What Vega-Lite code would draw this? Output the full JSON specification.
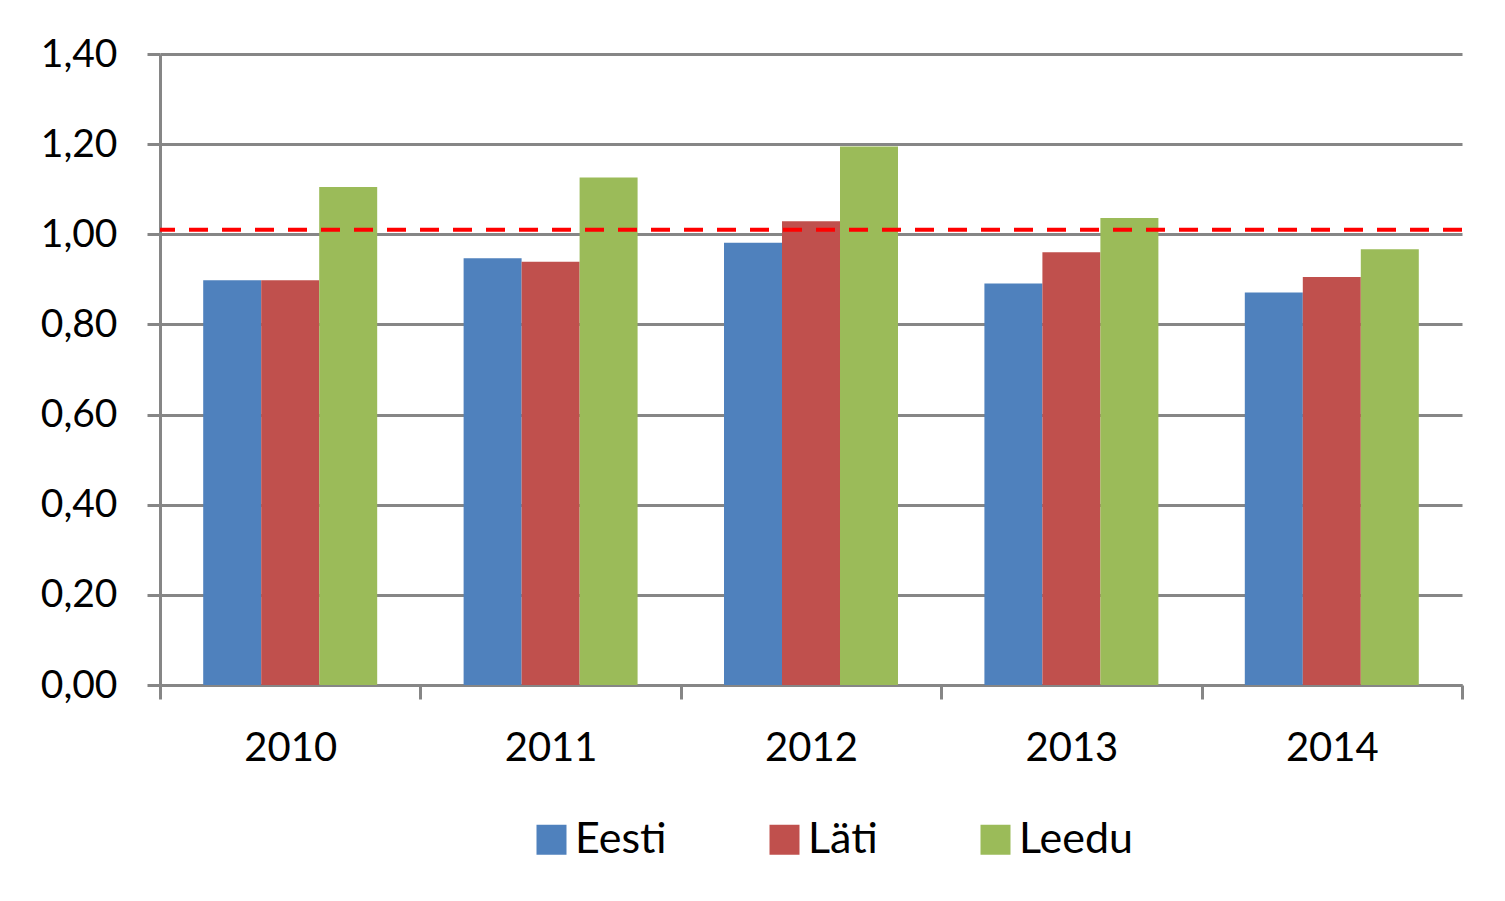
{
  "$schema": "https://vega.github.io/schema/vega-lite/v6.json",
  "width": 1302,
  "height": 631,
  "autosize": {"type": "none"},
  "padding": {"left": 160, "top": 54, "right": 43, "bottom": 216},
  "background": "white",
  "config": {"view": {"stroke": null}, "font": "Lato"},
  "datasets": {
    "bars": [
      {"year": "2010", "country": "Eesti", "value": 0.898},
      {"year": "2010", "country": "Läti", "value": 0.898},
      {"year": "2010", "country": "Leedu", "value": 1.105},
      {"year": "2011", "country": "Eesti", "value": 0.947},
      {"year": "2011", "country": "Läti", "value": 0.939},
      {"year": "2011", "country": "Leedu", "value": 1.126},
      {"year": "2012", "country": "Eesti", "value": 0.981},
      {"year": "2012", "country": "Läti", "value": 1.029},
      {"year": "2012", "country": "Leedu", "value": 1.195},
      {"year": "2013", "country": "Eesti", "value": 0.891},
      {"year": "2013", "country": "Läti", "value": 0.960},
      {"year": "2013", "country": "Leedu", "value": 1.036},
      {"year": "2014", "country": "Eesti", "value": 0.871},
      {"year": "2014", "country": "Läti", "value": 0.905},
      {"year": "2014", "country": "Leedu", "value": 0.967}
    ],
    "ref": [{"ref": 1.01}]
  },
  "layer": [
    {
      "data": {"name": "bars"},
      "mark": {"type": "bar"},
      "encoding": {
        "x": {
          "field": "year",
          "type": "ordinal",
          "scale": {"paddingInner": 0, "paddingOuter": 0},
          "axis": {
            "title": null,
            "labelAngle": 0,
            "labelFontSize": 40,
            "labelColor": "#000000",
            "labelPadding": 29,
            "tickBand": "extent",
            "tickSize": 14,
            "tickWidth": 3,
            "tickColor": "#868686",
            "domainColor": "#868686",
            "domainWidth": 3,
            "grid": false
          }
        },
        "xOffset": {
          "field": "country",
          "sort": ["Eesti", "Läti", "Leedu"],
          "scale": {"paddingInner": 0, "paddingOuter": 0.745}
        },
        "y": {
          "field": "value",
          "type": "quantitative",
          "scale": {"domain": [0, 1.4], "nice": false},
          "axis": {
            "title": null,
            "values": [0, 0.2, 0.4, 0.6, 0.8, 1.0, 1.2, 1.4],
            "labelExpr": "replace(format(datum.value, '.2f'), '.', ',')",
            "labelFontSize": 39,
            "labelColor": "#000000",
            "labelPadding": 30,
            "tickSize": 13,
            "tickWidth": 3,
            "tickColor": "#868686",
            "domainColor": "#868686",
            "domainWidth": 3,
            "gridColor": "#868686",
            "gridWidth": 3
          }
        },
        "color": {
          "field": "country",
          "type": "nominal",
          "sort": ["Eesti", "Läti", "Leedu"],
          "scale": {"domain": ["Eesti", "Läti", "Leedu"], "range": ["#4F81BD", "#C0504D", "#9BBB59"]},
          "legend": {
            "title": null,
            "orient": "none",
            "legendX": 370,
            "legendY": 764,
            "direction": "horizontal",
            "symbolType": "square",
            "symbolSize": 900,
            "symbolStrokeWidth": 0,
            "labelFontSize": 43,
            "labelColor": "#000000",
            "labelOffset": 2,
            "columnPadding": 96,
            "labelLimit": 300
          }
        }
      }
    },
    {
      "data": {"name": "ref"},
      "mark": {"type": "rule", "color": "#FF0000", "strokeWidth": 4, "strokeDash": [19, 14]},
      "encoding": {"y": {"field": "ref", "type": "quantitative"}}
    }
  ]
}
